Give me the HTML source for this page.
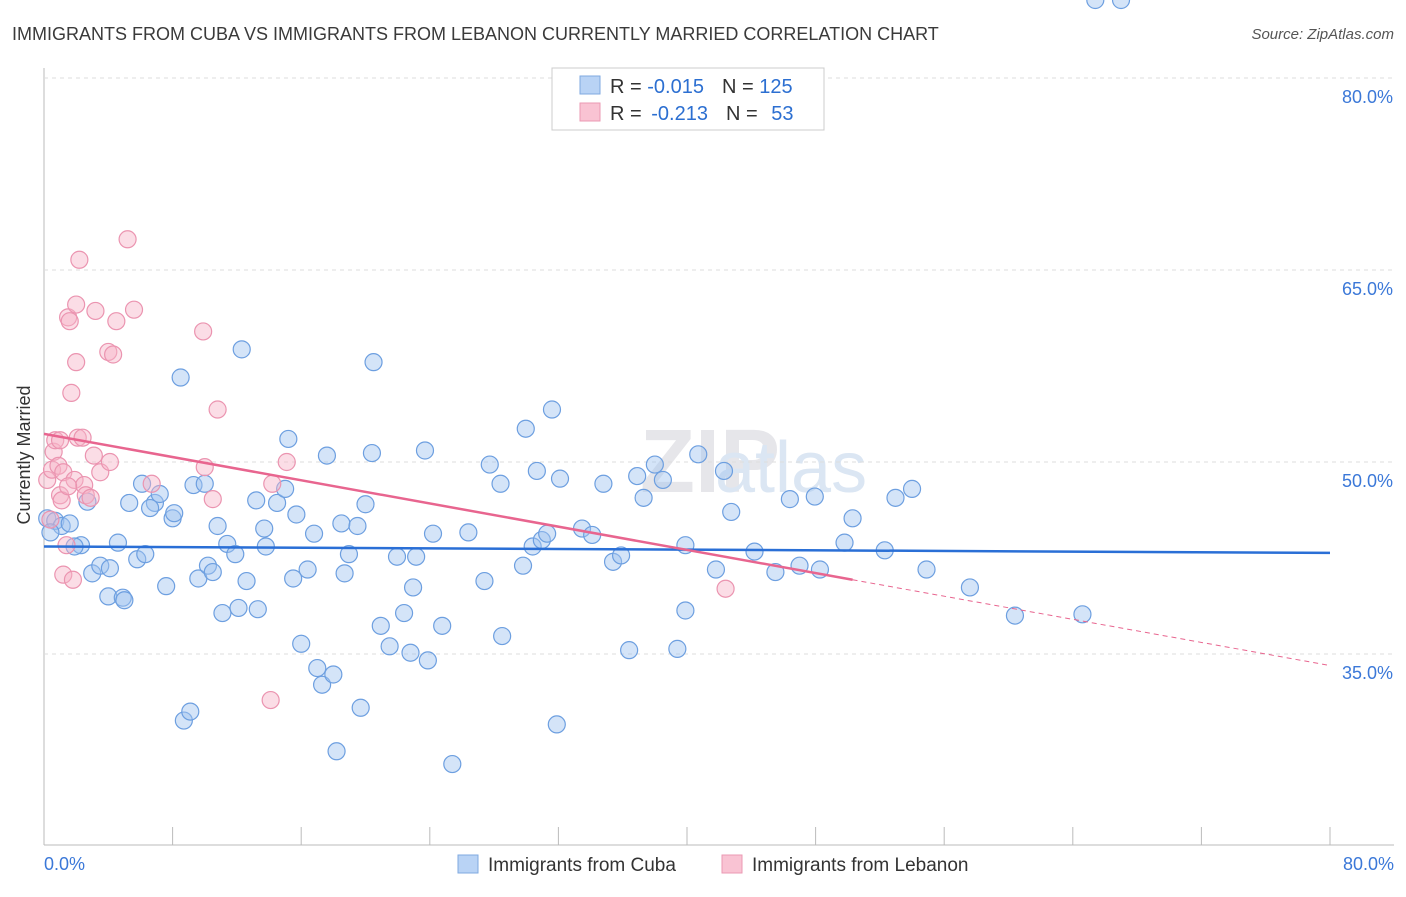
<!DOCTYPE html>
<html><head><meta charset="utf-8"><style>
body{margin:0;background:#fff;font-family:"Liberation Sans",sans-serif;}
#wrap{position:relative;width:1406px;height:892px;}
svg text{font-family:"Liberation Sans",sans-serif;}
</style></head><body>
<div id="wrap">
<svg id="c" width="1406" height="892">
<text x="12" y="40" font-size="18" fill="#3a3a3a">IMMIGRANTS FROM CUBA VS IMMIGRANTS FROM LEBANON CURRENTLY MARRIED CORRELATION CHART</text>
<text x="1394" y="39" font-size="15" fill="#555" text-anchor="end" font-style="italic">Source: ZipAtlas.com</text>
<text x="30" y="455" font-size="18" fill="#333" text-anchor="middle" transform="rotate(-90 30 455)">Currently Married</text>
<text x="640" y="492" font-size="90" fill="#e6e6ea" font-family="Liberation Serif" font-weight="bold">ZIP</text>
<text x="715" y="492" font-size="72" fill="#dbe6f3">atlas</text>
<g id="grid"></g><g id="pts"></g><g id="lines"></g>
<g>
<rect x="552" y="68" width="272" height="62" fill="#fff" stroke="#ccc"/>
<rect x="580" y="76" width="20" height="18" fill="#b9d3f5" stroke="#7fa9e0"/>
<rect x="580" y="103" width="20" height="18" fill="#f9c3d3" stroke="#eb99b3"/>
<text x="610" y="93" font-size="20" fill="#333">R = <tspan fill="#2c6fd1">-0.015</tspan><tspan dx="18">N = </tspan><tspan fill="#2c6fd1">125</tspan></text>
<text x="610" y="120" font-size="20" fill="#333">R = <tspan dx="4" fill="#2c6fd1">-0.213</tspan><tspan dx="18">N = </tspan><tspan dx="8" fill="#2c6fd1">53</tspan></text>
</g>
<g>
<rect x="458" y="855" width="20" height="18" fill="#b9d3f5" stroke="#7fa9e0"/>
<text x="488" y="871" font-size="19" fill="#333">Immigrants from Cuba</text>
<rect x="722" y="855" width="20" height="18" fill="#f9c3d3" stroke="#eb99b3"/>
<text x="752" y="871" font-size="19" fill="#333">Immigrants from Lebanon</text>
</g>
</svg></div>
<script>
const xTicks=[0,8,16,24,32,40,48,56,64,72,80];
const yTicks=[35,50,65,80];
const cubaX=[0.2,0.7,1.1,1.6,0.4,2.3,1.9,2.7,3.0,3.5,4.1,4.0,4.6,4.9,5.0,5.3,5.8,6.3,6.1,6.9,6.6,7.2,7.6,8.0,8.1,8.5,8.7,9.1,9.3,9.6,10.0,10.2,10.5,10.8,11.1,11.4,11.9,12.1,12.3,12.6,13.2,13.3,13.7,13.8,14.5,15.0,15.2,15.5,15.7,16.0,16.4,16.8,17.0,17.3,17.6,18.0,18.2,18.5,18.7,18.97,19.5,19.7,20.0,20.4,20.5,20.95,21.5,21.96,22.4,22.8,22.96,23.15,23.7,23.88,24.2,24.77,25.4,26.4,27.4,27.73,28.4,28.5,29.8,29.97,30.4,30.66,30.97,31.3,31.6,31.9,32.1,33.47,34.1,34.8,35.4,35.9,36.4,36.9,37.3,38.0,38.5,39.4,39.9,39.9,40.7,41.8,42.3,42.75,44.2,45.5,46.4,47.0,47.95,48.27,49.8,50.3,52.3,52.97,54.0,54.9,57.6,60.4,64.6,65.4,67.0];
const cubaY=[45.6,45.4,45.0,45.2,44.5,43.5,43.4,46.9,41.3,41.9,41.7,39.5,43.7,39.4,39.2,46.8,42.4,42.8,48.3,46.8,46.4,47.5,40.3,45.6,46.0,56.6,29.8,30.5,48.2,40.9,48.3,41.9,41.4,45.0,38.2,43.6,42.8,38.6,58.8,40.7,47.0,38.5,44.8,43.4,46.8,47.9,51.8,40.9,45.9,35.8,41.6,44.4,33.9,32.6,50.5,33.4,27.4,45.2,41.3,42.8,45.0,30.8,46.7,50.7,57.8,37.2,35.6,42.6,38.2,35.1,40.2,42.6,50.9,34.5,44.4,37.2,26.4,44.5,40.7,49.8,48.3,36.4,41.9,52.6,43.4,49.3,43.9,44.4,54.1,29.5,48.7,44.8,44.3,48.3,42.2,42.7,35.3,48.9,47.2,49.8,48.6,35.4,38.4,43.5,50.6,41.6,49.3,46.1,43.0,41.4,47.1,41.9,47.3,41.6,43.7,45.6,43.1,47.2,47.9,41.6,40.2,38.0,38.1];
const lebX=[0.2,0.4,0.5,0.6,0.7,0.9,1.0,1.1,1.2,1.4,1.2,1.5,1.6,1.7,1.8,1.9,2.0,2.1,2.2,2.5,2.6,3.1,3.2,3.5,4.0,4.1,4.3,4.5,5.2,5.6,6.7,9.9,10.0,10.5,10.8,14.2,15.1,14.1,42.4,2.0,2.4,1.0,1.5,2.9];
const lebY=[48.6,45.5,49.4,50.8,51.7,49.7,47.4,47.0,49.2,43.5,41.2,61.3,61.0,55.4,40.8,48.6,57.8,51.9,65.8,48.2,47.4,50.5,61.8,49.2,58.6,50.0,58.4,61.0,67.4,61.9,48.3,60.2,49.6,47.1,54.1,48.3,50.0,31.4,40.1,62.3,51.9,51.7,48.1,47.2];
const X0=44,X1=1330,Y80=78,YB=845;
const sx=v=>X0+(v-0)/80*(X1-X0);
const sy=v=>Y80+(80-v)*12.8;
const NS='http://www.w3.org/2000/svg';
function mk(t,a,p){const e=document.createElementNS(NS,t);for(const k in a)e.setAttribute(k,a[k]);p.appendChild(e);return e;}
const g=document.getElementById('grid');
mk('line',{x1:X0,y1:68,x2:X0,y2:YB,stroke:'#bbb'},g);
mk('line',{x1:X0,y1:YB,x2:1394,y2:YB,stroke:'#bbb'},g);
yTicks.forEach(v=>{
 const l=mk('line',{x1:X0,y1:sy(v),x2:1394,y2:sy(v),stroke:'#ddd','stroke-dasharray':'4,4'},g);
 
 
 const t=mk('text',{x:1393,y:sy(v)+25,'font-size':18,fill:'#3b78d8','text-anchor':'end'},g);
 t.textContent=v.toFixed(1)+'%';
 
 
});
xTicks.forEach(v=>{
 const l=mk('line',{x1:sx(v),y1:YB,x2:sx(v),y2:YB-18,stroke:'#bbb'},g);
 
 
});
[[0,'start',44],[80,'end',1394]].forEach(([v,a,x])=>{
 const t=mk('text',{x:x,y:870,'font-size':18,fill:'#3b78d8','text-anchor':a},g);
 t.textContent=v.toFixed(1)+'%';
 
 
});
const p=document.getElementById('pts');
cubaX.forEach((v,i)=>{
 const c=mk('circle',{cx:sx(v),cy:sy(cubaY[i]),r:8.5,fill:'rgba(160,196,240,0.45)',stroke:'#6d9fe0','stroke-width':1.2},p);
 
 
});
lebX.forEach((v,i)=>{
 const c=mk('circle',{cx:sx(v),cy:sy(lebY[i]),r:8.5,fill:'rgba(247,180,200,0.45)',stroke:'#eb94b0','stroke-width':1.2},p);
 
 
});
const L=document.getElementById('lines');
const b=mk('line',{x1:sx(0),y1:sy(43.4),x2:sx(80),y2:sy(42.9),stroke:'#2a6fd6','stroke-width':2.5},L);


const pk=mk('line',{x1:sx(0),y1:sy(52.2),x2:sx(50.3),y2:sy(40.8),stroke:'#e8658f','stroke-width':2.5},L);


const pd=mk('line',{x1:sx(50.3),y1:sy(40.8),x2:sx(80),y2:sy(34.1),stroke:'#e8658f','stroke-width':1,'stroke-dasharray':'5,4'},L);


</script>
</body></html>
